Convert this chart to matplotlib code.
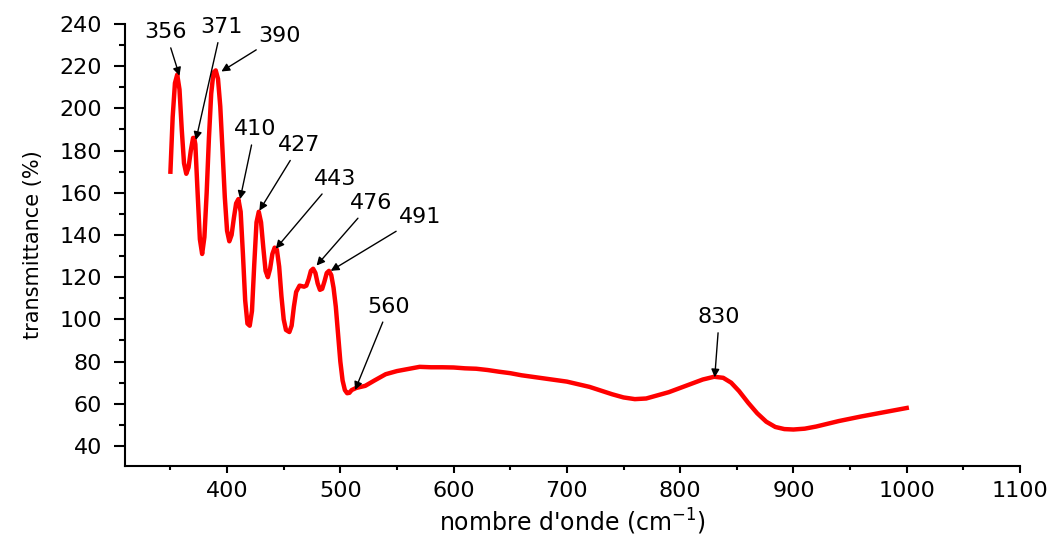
import matplotlib
matplotlib.use('Agg')
import matplotlib.pyplot as plt
from matplotlib.ticker import MultipleLocator

# spectrum
wavenumber = [350, 352, 354, 356, 358, 360, 362, 364, 366, 368, 370, 371, 372, 374,
              376, 378, 380, 382, 384, 386, 388, 390, 392, 394, 396, 398, 400, 402,
              404, 406, 408, 410, 412, 414, 416, 418, 420, 422, 424, 426, 428, 430,
              432, 434, 436, 438, 440, 442, 444, 446, 448, 450, 452, 455, 457, 459,
              461, 464, 468, 470, 472, 474, 476, 478, 480, 482, 484, 486, 488, 490,
              492, 494, 496, 498, 500, 502, 504, 506, 508, 510, 514, 518, 522, 530,
              540, 550, 560, 570, 580, 590, 600, 610, 620, 630, 640, 650, 660, 680,
              700, 720, 740, 750, 760, 770, 780, 790, 800, 810, 820, 830, 838, 845,
              852, 860, 868, 876, 884, 892, 900, 910, 920, 930, 940, 960, 980, 1000]
transmittance = [170, 196, 212, 216, 209, 190, 174, 169, 172, 180, 186, 186, 183, 160,
                 138, 131, 139, 160, 186, 207, 217, 218, 214, 201, 180, 158, 142, 137,
                 140, 148, 155, 157, 151, 131, 109, 98, 97, 104, 126, 146, 151, 146,
                 134, 123, 120, 124, 131, 134, 133, 125, 111, 100, 95, 94, 97, 106,
                 113, 116, 115.5, 116, 119, 123, 124, 122, 117, 114, 114.5, 118, 122, 123,
                 121, 115, 106, 93, 80, 71, 66.5, 65, 65.2, 66.5, 67.5, 68, 68.5, 71,
                 74, 75.5, 76.5, 77.5, 77.3, 77.3, 77.2, 76.8, 76.6, 76, 75.2, 74.5, 73.5, 72,
                 70.5, 68, 64.5, 63, 62.2, 62.5, 64, 65.5, 67.5, 69.5, 71.5, 72.8, 72.3, 70,
                 66, 60.5, 55.5, 51.5, 49, 48, 47.8, 48.2, 49.2, 50.5, 51.8, 54, 56, 58]

# band labels: (label, peak x, peak y, text x, text y)
band_labels = ['356', '371', '390', '410', '427', '443', '476', '491', '560', '830']
band_xy = [(358, 215.5), (372.5, 185), (395, 217.5), (411.5, 157), (428.5, 151.5),
           (443, 133.5), (479, 125.5), (491.5, 123), (513, 66.5), (830.5, 72.5)]
label_xy = [(346, 236), (395, 238.5), (446, 234.5), (424.5, 190), (464, 182.5),
            (495, 166.5), (527, 155), (570, 148.5), (543, 106), (834.5, 101)]

fig = plt.figure(figsize=(10.51, 5.37), dpi=100)
ax = fig.add_axes([0.1185, 0.1322, 0.852, 0.8231])

ax.plot(wavenumber, transmittance, color='#ff0000', lw=3.2, solid_joinstyle='round')

for lab, xy, txt in zip(band_labels, band_xy, label_xy):
    ax.annotate(lab, xy=xy, xytext=txt, ha='center', va='center',
                fontsize=16, color='black',
                arrowprops=dict(arrowstyle='-|>', color='black', lw=1,
                                mutation_scale=12, shrinkA=2, shrinkB=0))

ax.set_xlim(309.5, 1100)
ax.set_ylim(30.5, 240)
ax.xaxis.set_minor_locator(MultipleLocator(50))
ax.yaxis.set_minor_locator(MultipleLocator(10))
ax.set_xticks(range(400, 1101, 100))
ax.set_yticks(range(40, 241, 20))

for side in ['top', 'right']:
    ax.spines[side].set_visible(False)
for side in ['left', 'bottom']:
    ax.spines[side].set_linewidth(1.5)

ax.tick_params(axis='y', which='major', direction='out', length=8, width=1.5, labelsize=16, pad=8)
ax.tick_params(axis='y', which='minor', direction='out', length=4, width=1.5)
ax.tick_params(axis='x', which='major', direction='out', length=5, width=1.5, labelsize=16, pad=6)
ax.tick_params(axis='x', which='minor', direction='out', length=3, width=1.5)

ax.set_xlabel("nombre d'onde (cm$^{-1}$)", fontsize=17, labelpad=4)
ax.set_ylabel('transmittance (%)', fontsize=15, labelpad=12)

fig.savefig('out.png', dpi=100)
